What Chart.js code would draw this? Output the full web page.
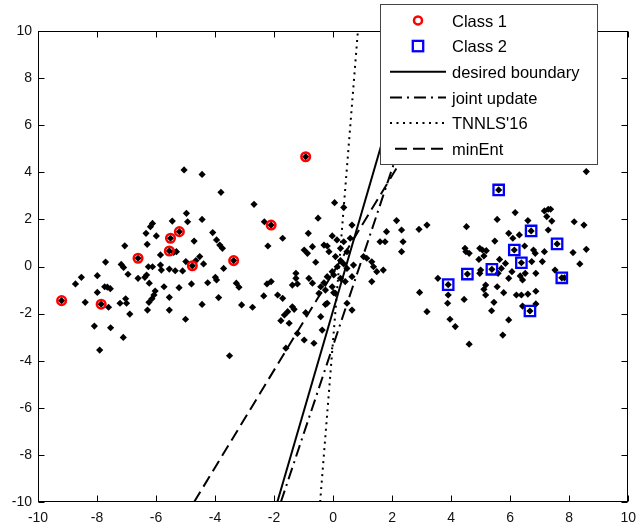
<!DOCTYPE html>
<html>
<head>
<meta charset="utf-8">
<script src="https://cdn.jsdelivr.net/npm/chart.js@4/dist/chart.umd.min.js"></script>
<style>
  html, body { margin: 0; padding: 0; background: #fff; }
  #wrap { width: 644px; height: 527px; }
</style>
</head>
<body>
<div id="wrap"><canvas id="chart" width="644" height="527"></canvas></div>
<script>
// Axis ticks (both axes share the same range)
const tickValues = [-10, -8, -6, -4, -2, 0, 2, 4, 6, 8, 10];

// Labelled samples
const class1Points = [
  [-9.20, -1.45], [-7.86, -1.60], [-6.61, 0.35], [-5.51, 1.20], [-5.21, 1.48],
  [-5.55, 0.66], [-4.77, 0.03], [-3.37, 0.25], [-0.93, 4.66], [-2.10, 1.76]
];
const class2Points = [
  [5.61, 3.25], [6.71, 1.51], [7.59, 0.96], [6.14, 0.70], [6.38, 0.16],
  [5.38, -0.12], [4.55, -0.32], [3.90, -0.77], [7.75, -0.48], [6.67, -1.89]
];

// Unlabelled samples, grouped by cluster
const leftCluster = [
  [-5.05, 4.10], [-4.44, 3.91], [-3.80, 3.15], [-2.68, 2.64], [-4.97, 2.26], [-4.44, 2.00],
  [-5.45, 1.93], [-4.93, 1.90], [-6.12, 1.83], [-6.19, 1.69], [-6.34, 1.41], [-5.99, 1.30],
  [-4.08, 1.44], [-3.95, 1.13], [-3.84, 0.91], [-3.75, 0.77], [-4.71, 1.08], [-7.06, 0.88],
  [-6.30, 0.94], [-5.85, 0.49], [-5.40, 0.60], [-5.31, 0.63], [-4.99, 0.21], [-4.65, 0.25],
  [-4.52, 0.42], [-4.39, 0.11], [-3.71, -0.08], [-7.71, 0.19], [-7.18, 0.09], [-7.10, -0.04],
  [-6.95, -0.33], [-6.61, -0.50], [-6.38, -0.46], [-6.32, -0.36], [-6.23, -0.71], [-6.26, -0.01],
  [-6.12, -0.01], [-5.85, 0.06], [-5.82, -0.15], [-5.55, -0.11], [-5.35, -0.18], [-5.10, -0.19],
  [-3.99, -0.46], [-3.95, -0.57], [-4.25, -0.69], [-4.80, -0.74], [-5.22, -0.90], [-5.73, -0.86],
  [-3.28, -0.71], [-3.19, -0.88], [-8.53, -0.46], [-8.73, -0.74], [-7.99, -0.39], [-7.99, -1.10],
  [-7.74, -0.86], [-7.65, -0.88], [-7.55, -0.94], [-7.61, -1.73], [-8.40, -1.52], [-7.22, -1.56],
  [-7.03, -1.37], [-7.00, -1.56], [-6.03, -1.04], [-6.07, -1.21], [-6.14, -1.37], [-6.24, -1.52],
  [-5.55, -1.31], [-5.55, -1.85], [-6.29, -1.85], [-6.89, -2.02], [-5.00, -2.24], [-4.44, -1.61],
  [-3.88, -1.32], [-3.10, -1.63], [-2.73, -1.73], [-8.09, -2.53], [-7.54, -2.60], [-7.11, -3.01],
  [-7.91, -3.55], [-3.51, -3.79]
];
const centerCluster = [
  [0.05, 2.71], [0.36, 2.51], [-2.33, 1.90], [-0.51, 2.05], [-1.71, 1.20], [-2.21, 0.87],
  [-0.84, 1.41], [-0.03, 1.30], [0.64, 1.76], [-0.98, 0.70], [-0.87, 0.56], [-0.70, 0.84],
  [-0.31, 0.91], [-0.20, 0.87], [0.13, 1.13], [0.36, 1.05], [0.58, 1.20], [0.25, 0.77],
  [0.47, 0.63], [-0.14, 0.63], [-0.59, 0.18], [0.08, 0.42], [0.25, 0.25], [0.36, 0.11],
  [0.14, -0.01], [0.47, -0.08], [0.69, 0.06], [-0.03, -0.22], [-0.20, -0.43], [0.02, -0.36],
  [0.25, -0.50], [0.41, -0.64], [0.64, -0.43], [-0.31, -0.69], [-0.42, -0.86], [-0.26, -1.00],
  [-0.48, -1.14], [-0.03, -0.86], [0.08, -1.14], [-0.20, -1.56], [1.03, 0.42], [1.14, 0.35],
  [1.31, 0.20], [1.37, -0.01], [1.48, -0.22], [1.31, -0.64], [1.70, -0.15], [2.15, 1.95],
  [2.32, 1.55], [2.91, 1.58], [3.18, 1.76], [1.81, 1.48], [1.59, 1.05], [1.76, 1.05],
  [2.37, 1.05], [2.32, 0.63], [-1.26, -0.50], [-1.38, -0.79], [-1.21, -0.74], [-2.10, -0.64],
  [-2.24, -0.74], [-2.35, -1.25], [-1.88, -1.21], [-1.71, -1.35], [-1.54, -1.92], [-1.65, -2.06],
  [-1.77, -2.30], [-1.38, -1.71], [-1.49, -2.41], [-0.93, -1.96], [-1.21, -2.84], [-0.98, -3.12],
  [-0.65, -3.26], [-1.60, -3.47], [-0.37, -2.70], [-0.42, -2.13], [0.02, -1.11], [2.93, -1.10],
  [3.18, -1.92], [0.64, -1.85], [0.47, -1.56], [-0.82, -0.50], [-0.70, -0.71], [-1.26, -0.29],
  [-1.32, -1.82], [-0.26, -1.61]
];
const rightCluster = [
  [8.58, 4.03], [6.17, 2.29], [5.56, 2.00], [4.52, 1.69], [7.29, 2.43], [7.24, 2.12],
  [7.41, 1.93], [7.37, 2.43], [7.16, 2.36], [6.60, 1.95], [8.17, 1.90], [8.50, 1.76],
  [7.29, 1.55], [5.95, 1.41], [6.09, 1.20], [6.31, 1.34], [5.48, 1.08], [4.47, 0.77],
  [4.61, 0.56], [4.50, 0.63], [4.97, 0.77], [5.06, 0.70], [5.19, 0.67], [5.11, 0.45],
  [4.94, 0.30], [5.64, 0.30], [5.84, 0.13], [6.49, 0.87], [6.79, 0.70], [6.85, 0.56],
  [7.16, 0.63], [7.09, 0.21], [6.73, 0.21], [8.13, 0.59], [8.58, 0.73], [8.36, 0.11],
  [7.52, -0.15], [6.87, -0.29], [6.51, -0.29], [6.34, -0.40], [6.42, -0.57], [6.06, -0.22],
  [5.95, -0.50], [5.70, -0.08], [5.59, -0.29], [4.97, -0.29], [5.00, -0.15], [5.17, -0.79],
  [5.11, -0.97], [5.17, -1.21], [5.56, -0.86], [5.78, -1.11], [6.21, -1.21], [6.38, -1.21],
  [6.60, -1.17], [6.87, -1.05], [6.42, -1.68], [6.87, -1.59], [5.45, -1.52], [5.37, -1.88],
  [5.95, -2.27], [5.75, -2.91], [4.61, -3.30], [3.96, -2.24], [4.14, -2.55], [4.44, -1.40],
  [3.90, -1.21], [3.88, -1.56], [3.55, -0.50], [7.84, -0.48]
];

// Decision boundaries (end points across the y range)
const desiredBoundary = [[-1.89, -10], [2.76, 10]];
const jointUpdate     = [[-1.77, -10], [3.56, 10]];
const tnnls16         = [[-0.44, -10], [0.84, 10]];
const minEnt          = [[-4.71, -10], [4.97, 10]];

const seriesNames = ['Class 1', 'Class 2', 'desired boundary', 'joint update', "TNNLS'16", 'minEnt'];

const FONT = "'Liberation Sans', Arial, sans-serif";
const toXY = arr => arr.map(([x, y]) => ({ x, y }));

const lineSet = (label, pts, dash) => ({
  label, data: toXY(pts), showLine: true, borderColor: '#000', borderWidth: 2,
  borderDash: dash, pointRadius: 0, fill: false, order: 1
});

const lineStyles = {
  solid: [], dashDot: [12, 5, 2, 5], dotted: [2, 4.5], dashed: [12, 6]
};

// Box, inward ticks and the in-plot legend
const frameAndLegend = {
  id: 'frameAndLegend',
  afterDraw(chart) {
    const { ctx, chartArea: a, scales: { x, y } } = chart;
    ctx.save();
    ctx.strokeStyle = '#000';
    ctx.lineWidth = 1;
    const L = Math.round(a.left) + 0.5, R = Math.round(a.right) - 0.5;
    const T = Math.round(a.top) + 0.5, B = Math.round(a.bottom) - 0.5;
    ctx.strokeRect(L, T, R - L, B - T);
    ctx.beginPath();
    tickValues.forEach(v => {
      const px = Math.round(x.getPixelForValue(v)) + 0.5;
      ctx.moveTo(px, B); ctx.lineTo(px, B - 6);
      ctx.moveTo(px, T); ctx.lineTo(px, T + 6);
      const py = Math.round(y.getPixelForValue(v)) + 0.5;
      ctx.moveTo(L, py); ctx.lineTo(L + 6, py);
      ctx.moveTo(R, py); ctx.lineTo(R - 6, py);
    });
    ctx.stroke();

    // legend box
    const bx = 380.5, by = 4.5, bw = 217, bh = 160;
    ctx.fillStyle = '#fff';
    ctx.fillRect(bx, by, bw, bh);
    ctx.strokeStyle = '#444';
    ctx.lineWidth = 1;
    ctx.strokeRect(bx, by, bw, bh);

    const sampleL = 390, sampleR = 446, markX = 418, textX = 452;
    const base0 = 26.7, step = 25.66;
    ctx.font = '16.5px ' + FONT;
    ctx.textBaseline = 'alphabetic';
    ctx.textAlign = 'left';
    seriesNames.forEach((name, i) => {
      const base = base0 + i * step;
      const my = base - 6.3;
      ctx.save();
      if (i === 0) {
        ctx.strokeStyle = '#ff0000'; ctx.lineWidth = 2.5;
        ctx.beginPath(); ctx.arc(markX, my, 4, 0, Math.PI * 2); ctx.stroke();
      } else if (i === 1) {
        ctx.strokeStyle = '#0000ff'; ctx.lineWidth = 2.3;
        ctx.strokeRect(markX - 5.2, my - 5.2, 10.4, 10.4);
      } else {
        const dash = [lineStyles.solid, lineStyles.dashDot, lineStyles.dotted, lineStyles.dashed][i - 2];
        ctx.strokeStyle = '#000'; ctx.lineWidth = 2;
        ctx.setLineDash(dash);
        ctx.beginPath();
        ctx.moveTo(i === 5 ? sampleL + 5 : sampleL, my);
        ctx.lineTo(sampleR, my);
        ctx.stroke();
      }
      ctx.restore();
      ctx.fillStyle = '#000';
      ctx.fillText(name, textX, base);
    });
    ctx.restore();
  }
};

const tickCommon = {
  font: { family: FONT, size: 14 },
  color: '#111',
  autoSkip: false,
  maxRotation: 0,
  minRotation: 0
};

new Chart(document.getElementById('chart'), {
  type: 'scatter',
  data: {
    datasets: [
      {
        label: 'Class 1', data: toXY(class1Points), pointStyle: 'circle', pointRadius: 4.3,
        borderColor: '#ff0000', borderWidth: 2.5, backgroundColor: 'rgba(0,0,0,0)', order: 0
      },
      {
        label: 'Class 2', data: toXY(class2Points), pointStyle: 'rect', pointRadius: 7.35,
        borderColor: '#0000ff', borderWidth: 2.3, backgroundColor: 'rgba(0,0,0,0)', order: 0
      },
      lineSet('desired boundary', desiredBoundary, lineStyles.solid),
      lineSet('joint update', jointUpdate, lineStyles.dashDot),
      lineSet("TNNLS'16", tnnls16, lineStyles.dotted),
      lineSet('minEnt', minEnt, lineStyles.dashed),
      {
        label: 'samples',
        data: toXY([...leftCluster, ...centerCluster, ...rightCluster, ...class1Points, ...class2Points]),
        pointStyle: 'rectRot', pointRadius: 3.6, borderWidth: 0,
        backgroundColor: '#000', borderColor: '#000', order: 2
      }
    ]
  },
  options: {
    responsive: false,
    animation: false,
    devicePixelRatio: 1,
    layout: { autoPadding: false, padding: { top: 31, right: 10, left: 0, bottom: 0 } },
    plugins: { legend: { display: false }, tooltip: { enabled: false } },
    scales: {
      x: {
        type: 'linear', position: 'bottom', min: -10, max: 10,
        afterBuildTicks: s => { s.ticks = tickValues.map(v => ({ value: v })); },
        afterFit: s => { s.height = 25; },
        grid: { display: false, drawTicks: false },
        border: { display: false },
        ticks: { ...tickCommon, padding: 8 }
      },
      y: {
        type: 'linear', position: 'left', min: -10, max: 10,
        afterBuildTicks: s => { s.ticks = tickValues.map(v => ({ value: v })); },
        afterFit: s => { s.width = 38; },
        grid: { display: false, drawTicks: false },
        border: { display: false },
        ticks: { ...tickCommon, padding: 6 }
      }
    }
  },
  plugins: [frameAndLegend]
});
</script>
</body>
</html>
